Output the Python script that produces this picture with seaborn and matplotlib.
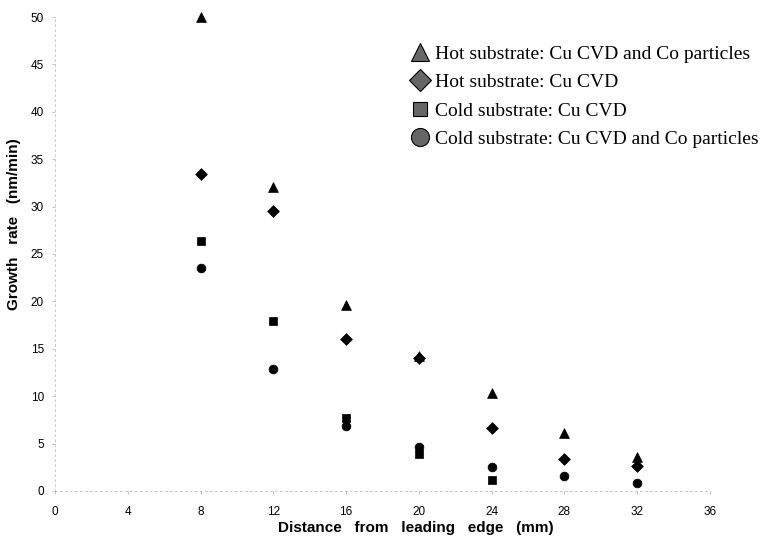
import numpy as np
import pandas as pd
import matplotlib
matplotlib.use("Agg")
import matplotlib.pyplot as plt
from matplotlib.lines import Line2D
import seaborn as sns

# data
distance = [8, 12, 16, 20, 24, 28, 32]
hot_cvd_co = [50.0, 32.1, 19.6, 14.2, 10.3, 6.1, 3.6]
hot_cvd = [33.4, 29.5, 16.0, 14.0, 6.6, 3.4, 2.6]
cold_cvd = [26.4, 17.9, 7.7, 3.9, 1.2, np.nan, np.nan]
cold_cvd_co = [23.5, 12.9, 6.9, 4.6, 2.5, 1.6, 0.8]

series_names = [
    "Hot substrate: Cu CVD and Co particles",
    "Hot substrate: Cu CVD",
    "Cold substrate: Cu CVD",
    "Cold substrate: Cu CVD and Co particles",
]
series_values = [hot_cvd_co, hot_cvd, cold_cvd, cold_cvd_co]
series_markers = ["^", "D", "s", "o"]
series_sizes = [50, 36, 36, 40]

x_ticks = list(range(0, 37, 4))
y_ticks = list(range(0, 51, 5))

rows = []
for name, vals in zip(series_names, series_values):
    for d, v in zip(distance, vals):
        rows.append({"distance": d, "rate": v, "series": name})
df = pd.DataFrame(rows).dropna()

sns.set_theme(style="white")
plt.rcParams["font.family"] = ["Liberation Sans", "DejaVu Sans"]
plt.rcParams["text.color"] = "black"
plt.rcParams["axes.labelcolor"] = "black"
plt.rcParams["xtick.color"] = "black"
plt.rcParams["ytick.color"] = "black"

fig = plt.figure(figsize=(7.7, 5.38), dpi=100)
ax = fig.add_axes([0.0714, 0.0874, 0.8506, 0.881])

for name, mk, sz in zip(series_names, series_markers, series_sizes):
    sub = df[df["series"] == name]
    sns.scatterplot(data=sub, x="distance", y="rate", marker=mk, s=sz,
                    color="black", edgecolor="black", linewidth=0.5,
                    ax=ax, legend=False, clip_on=False, zorder=3)

ax.set_xlim(0, 36)
ax.set_ylim(0, 50)
ax.set_xticks(x_ticks)
ax.set_yticks(y_ticks)
ax.set_xticklabels([f"{t}" for t in x_ticks], fontsize=8.5)
ax.set_yticklabels([f"{t}" for t in y_ticks], fontsize=8.5)
ax.tick_params(axis="both", length=2, width=0.5, color="#aaaaaa", pad=6,
               bottom=True, left=True, labelcolor="black")
ax.tick_params(axis="x", pad=9)

for side in ["top", "right"]:
    ax.spines[side].set_visible(False)
for side in ["left", "bottom"]:
    ax.spines[side].set_color("#bbbbbb")
    ax.spines[side].set_linewidth(0.6)
    ax.spines[side].set_linestyle((0, (2, 4)))

ax.set_xlabel("Distance   from   leading   edge   (mm)", fontsize=11,
              fontweight="bold", color="black")
ax.set_ylabel("Growth   rate   (nm/min)", fontsize=11, fontweight="bold",
              color="black")
ax.xaxis.set_label_coords(0.551, -0.064)
ax.yaxis.set_label_coords(-0.052, 0.563)

handles = [Line2D([], [], linestyle="none", marker=mk, markersize=ms,
                  markerfacecolor="#666666", markeredgecolor="black",
                  markeredgewidth=0.8)
           for mk, ms in zip(series_markers, [13, 11, 10, 13])]
ax.legend(handles, series_names, loc="upper left",
          bbox_to_anchor=(0.542, 0.941), frameon=False,
          borderpad=0, borderaxespad=0,
          prop={"family": "Liberation Serif", "size": 14},
          handletextpad=0.3, labelspacing=0.56, handlelength=1.0,
          labelcolor="black")

fig.savefig("out.png", dpi=100)
